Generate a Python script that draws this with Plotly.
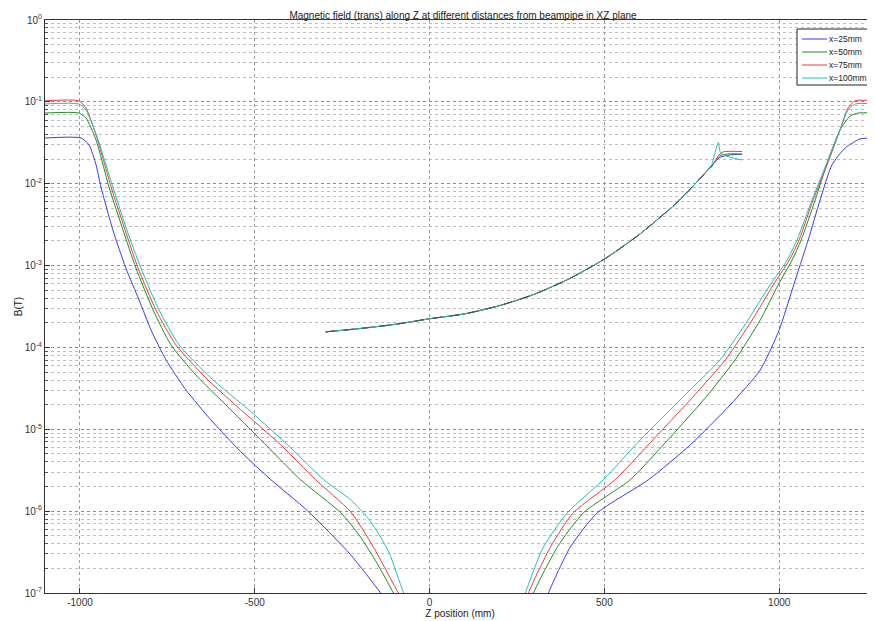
import plotly.graph_objects as go

# ---------------- data ----------------
series_names = ["x=25mm", "x=50mm", "x=75mm", "x=100mm"]

# left-hand fringe field (Z < 0)
left_z_25 = [-1100, -997, -974, -954, -940, -906, -869, -831, -797, -754, -697, -626, -540, -454, -349, -226, -140, -97]
left_B_25 = [0.0362, 0.0362, 0.0298, 0.0170, 0.00914, 0.00273, 9.37e-4, 3.81e-4, 1.64e-4, 7.06e-5, 3.03e-5,
             1.31e-5, 5.31e-6, 2.42e-6, 1.01e-6, 2.94e-7, 1.0e-7, 5.4e-8]
left_z_50 = [-1100, -1003, -983, -954, -917, -877, -840, -791, -740, -669, -583, -483, -369, -254, -200, -150, -103, -69]
left_B_50 = [0.0731, 0.0731, 0.0636, 0.0343, 0.00914, 0.00273, 9.37e-4, 2.88e-4, 1.08e-4, 4.62e-5, 1.99e-5,
             7.45e-6, 2.42e-6, 9.56e-7, 5.0e-7, 2.3e-7, 1.0e-7, 6.0e-8]
left_z_75 = [-1100, -1003, -983, -954, -911, -871, -834, -783, -726, -640, -540, -426, -326, -226, -160, -89, -54]
left_B_75 = [0.103, 0.103, 0.0843, 0.0394, 0.00914, 0.00273, 9.37e-4, 2.88e-4, 1.08e-4, 4.25e-5, 1.73e-5,
             6.47e-6, 2.42e-6, 9.84e-7, 3.6e-7, 1.0e-7, 6.0e-8]
left_z_100 = [-1100, -1003, -983, -951, -906, -866, -826, -774, -717, -626, -511, -397, -303, -226, -169, -117, -74, -46]
left_B_100 = [0.0942, 0.0942, 0.0796, 0.0373, 0.00914, 0.00273, 9.37e-4, 2.88e-4, 1.08e-4, 4.25e-5, 1.64e-5,
              5.94e-6, 2.42e-6, 1.38e-6, 7.5e-7, 3.2e-7, 1.0e-7, 6.0e-8]

# central branch (all distances nearly identical)
mid_z = [-297, -200, -100, 0, 100, 200, 300, 400, 500, 600, 700, 760, 811]
mid_B = [1.55e-4, 1.70e-4, 1.91e-4, 2.24e-4, 2.57e-4, 3.24e-4, 4.47e-4, 6.92e-4, 1.20e-3, 2.40e-3,
         5.50e-3, 1.0e-2, 1.74e-2]

# end of the central branch, per distance
tail_z_25 = [830, 860, 894]
tail_B_25 = [0.021, 0.0225, 0.0229]
tail_z_50 = [830, 860, 894]
tail_B_50 = [0.022, 0.0232, 0.0230]
tail_z_75 = [826, 840, 894]
tail_B_75 = [0.022, 0.0245, 0.0247]
tail_z_100 = [806, 826, 832, 860, 894]
tail_B_100 = [0.0158, 0.0318, 0.024, 0.021, 0.0195]

# right-hand fringe field (Z > 0)
right_z_25 = [323, 340, 403, 480, 626, 746, 860, 946, 1000, 1037, 1060, 1083, 1117, 1151, 1189, 1231, 1274]
right_B_25 = [6.0e-8, 1.0e-7, 3.67e-7, 9.56e-7, 2.42e-6, 6.47e-6, 1.99e-5, 5.32e-5, 1.64e-4, 5.05e-4,
              0.00102, 0.00206, 0.00634, 0.0170, 0.0274, 0.0352, 0.0362]
right_z_50 = [280, 297, 366, 440, 574, 674, 789, 874, 946, 997, 1037, 1063, 1103, 1140, 1174, 1203, 1226, 1274]
right_B_50 = [6.0e-8, 1.0e-7, 3.67e-7, 9.56e-7, 2.42e-6, 6.84e-6, 2.43e-5, 7.06e-5, 2.17e-4, 5.81e-4,
              0.00117, 0.00206, 0.00634, 0.0195, 0.0454, 0.0673, 0.0731, 0.0731]
right_z_75 = [269, 283, 346, 411, 531, 631, 751, 846, 923, 983, 1029, 1057, 1097, 1137, 1174, 1197, 1217, 1274]
right_B_75 = [6.0e-8, 1.0e-7, 3.67e-7, 9.56e-7, 2.42e-6, 6.84e-6, 2.43e-5, 7.06e-5, 2.17e-4, 5.81e-4,
              0.00117, 0.00206, 0.00634, 0.0170, 0.0454, 0.0843, 0.103, 0.103]
right_z_100 = [260, 274, 326, 394, 497, 603, 731, 831, 911, 974, 1023, 1051, 1094, 1134, 1174, 1197, 1217, 1274]
right_B_100 = [6.0e-8, 1.0e-7, 3.67e-7, 9.56e-7, 2.42e-6, 7.45e-6, 2.64e-5, 7.06e-5, 2.17e-4, 5.81e-4,
               0.00117, 0.00206, 0.00634, 0.0170, 0.0454, 0.0796, 0.0942, 0.0942]

x_tick_vals = [-1000, -500, 0, 500, 1000]
x_tick_text = ["-1000", "-500", "0", "500", "1000"]
y_tick_vals = [1e-7, 1e-6, 1e-5, 1e-4, 1e-3, 1e-2, 1e-1, 1]
y_tick_text = ["10<sup>-7</sup>", "10<sup>-6</sup>", "10<sup>-5</sup>", "10<sup>-4</sup>",
               "10<sup>-3</sup>", "10<sup>-2</sup>", "10<sup>-1</sup>", "10<sup>0</sup>"]

title_text = "Magnetic field (trans) along Z at different distances from beampipe in XZ plane"
x_title = "Z position (mm)"
y_title = "B(T)"

# ---------------- figure ----------------
colors = ["#3a3af0", "#1f8f1f", "#f03a3a", "#1fc0c0"]
lefts = [(left_z_25, left_B_25), (left_z_50, left_B_50), (left_z_75, left_B_75), (left_z_100, left_B_100)]
tails = [(tail_z_25, tail_B_25), (tail_z_50, tail_B_50), (tail_z_75, tail_B_75), (tail_z_100, tail_B_100)]
rights = [(right_z_25, right_B_25), (right_z_50, right_B_50), (right_z_75, right_B_75), (right_z_100, right_B_100)]

fig = go.Figure()
for name, col, (lz, lb), (tz, tb), (rz, rb) in zip(series_names, colors, lefts, tails, rights):
    xs = list(lz) + [None] + list(mid_z) + list(tz) + [None] + list(rz)
    ys = list(lb) + [None] + list(mid_B) + list(tb) + [None] + list(rb)
    fig.add_trace(go.Scatter(x=xs, y=ys, mode="lines", name=name, showlegend=False,
                             line=dict(color=col, width=1, shape="spline", smoothing=0.6),
                             connectgaps=False))

# dark overlay visible on the central branch
fig.add_trace(go.Scatter(x=mid_z, y=mid_B, mode="lines", showlegend=False,
                         line=dict(color="rgba(30,30,30,0.6)", width=1, dash="dash",
                                   shape="spline", smoothing=0.6)))

minor_y = [m * 10.0 ** e for e in range(-7, 0) for m in range(2, 10)]

# body of the page has an 8px margin: figure is sized so the page stays 875x621
W, H = 867, 613
ML, MT, MB = 37, 12, 28
PW, PH = W - ML, H - MT - MB


def px(xf):
    return (xf - ML) / PW


def py(yf):
    return (MT + PH - yf) / PH


shapes = [dict(type="rect", xref="paper", yref="paper", x0=px(789), x1=px(866), y0=py(77), y1=py(21),
               line=dict(color="#222", width=1), fillcolor="white", layer="above")]
annotations = []
for i, (name, col) in enumerate(zip(series_names, colors)):
    yy = py(31 + 13 * i)
    shapes.append(dict(type="line", xref="paper", yref="paper", x0=px(794), x1=px(819), y0=yy, y1=yy,
                       line=dict(color=col, width=1), layer="above"))
    annotations.append(dict(text=name, xref="paper", yref="paper", x=px(820), y=yy, xanchor="left",
                            yanchor="middle", showarrow=False, borderpad=0,
                            font=dict(size=8.5, color="#222")))

fig.update_layout(
    width=W, height=H, autosize=False,
    margin=dict(l=ML, r=0, t=MT, b=MB, pad=0),
    paper_bgcolor="white", plot_bgcolor="white",
    font=dict(family="Liberation Sans, Arial, sans-serif", size=10, color="#333"),
    title=dict(text=title_text, xref="paper", x=px(455), xanchor="center", y=1 - 7 / H, yanchor="middle",
               font=dict(size=10, color="#222")),
    showlegend=False,
    shapes=shapes,
    annotations=annotations,
)
fig.update_xaxes(
    range=[-1100, 1274], tickvals=x_tick_vals, ticktext=x_tick_text,
    showline=True, linecolor="#333", linewidth=1, mirror=True,
    ticks="inside", ticklen=5, tickcolor="#333",
    showgrid=True, gridcolor="#9a9a9a", griddash="dot", gridwidth=1,
    zeroline=False, automargin=False,
    title=dict(text=x_title, font=dict(size=10, color="#222"), standoff=2),
)
fig.update_yaxes(
    type="log", range=[-7, 0], tickvals=y_tick_vals, ticktext=y_tick_text,
    showline=True, linecolor="#333", linewidth=1, mirror=False,
    ticks="inside", ticklen=5, tickcolor="#333",
    showgrid=True, gridcolor="#8a8a8a", griddash="dot", gridwidth=1,
    minor=dict(tickvals=minor_y, ticks="inside", ticklen=3, tickcolor="#555",
               showgrid=True, gridcolor="#bdbdbd", griddash="dot", gridwidth=1),
    zeroline=False, automargin=False,
    title=dict(text=y_title, font=dict(size=10, color="#222"), standoff=0),
)

fig.write_html("out.html")
